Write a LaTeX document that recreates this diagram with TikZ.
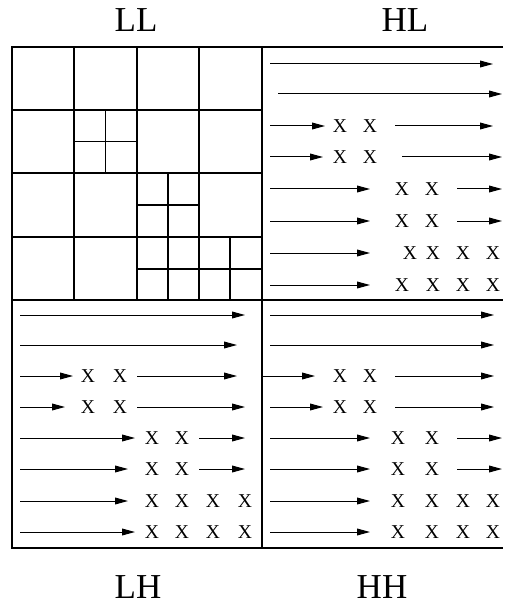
\documentclass[tikz,border=0pt]{standalone}
\usepackage{fontspec}
\setmainfont{Liberation Serif}
\usetikzlibrary{arrows.meta}

\begin{document}
\begin{tikzpicture}[x=0.5pt, y=-0.5pt, line width=0.5pt,
  frame/.style={line width=0.75pt},
  flow/.style={-{Triangle[length=6.5pt,width=3.4pt]}},
  xmark/.style={inner sep=0pt, font=\fontsize{9.8}{10}\selectfont},
  band/.style={inner sep=0pt, font=\fontsize{17.5}{18}\selectfont}]
  \useasboundingbox (0,0) rectangle (507,604);
  % outer frame and quadrants
  \draw[frame] (503,47) -- (12,47) -- (12,548) -- (503,548);
  \draw[frame] (262,47) -- (262,548);
  \draw[frame] (12,300) -- (503,300);
  % LL grid
  \foreach \x in {74,137,199}
    \draw[frame] (\x,47) -- (\x,300);
  \foreach \y in {110,173,237}
    \draw[frame] (12,\y) -- (262,\y);
  \draw[frame] (105.5,110) -- (105.5,173);
  \draw[frame] (74,141.5) -- (137,141.5);
  \draw[frame] (168,173) -- (168,300);
  \draw[frame] (137,205) -- (199,205);
  \draw[frame] (137,269) -- (262,269);
  \draw[frame] (230,237) -- (230,300);
  % HL
  \foreach \a/\b/\y in {270/493/64, 278/502/94, 270/325/126, 395/493/126,
      270/323/157, 402/502/157, 270/370/189, 457/502/189, 270/370/221,
      457/502/221, 270/370/253, 270/370/285}
    \draw[flow] (\a,\y) -- (\b,\y);
  \foreach \x/\y [count=\i] in {340/126, 370/126, 340/157, 370/157, 402/189,
      432/189, 402/221, 432/221, 410/253, 433/253, 463/253, 493/253,
      402/285, 433/285, 463/285, 493/285}
    \node[xmark] (hlx\i) at (\x,\y) {X};
  % LH
  \foreach \a/\b/\y in {20/245/315, 20/237/345, 20/73/376, 137/237/376,
      20/65/407, 137/245/407, 20/135/438, 199/245/438, 20/128/469,
      199/245/469, 20/128/501, 20/135/532}
    \draw[flow] (\a,\y) -- (\b,\y);
  \foreach \x/\y [count=\i] in {88/376, 120/376, 88/407, 120/407, 152/438,
      182/438, 152/469, 182/469, 152/501, 182/501, 213/501, 245/501,
      152/532, 182/532, 213/532, 245/532}
    \node[xmark] (lhx\i) at (\x,\y) {X};
  % HH
  \foreach \a/\b/\y in {270/494/315, 270/494/345, 263/315/376, 395/494/376,
      270/323/407, 395/494/407, 270/370/438, 457/502/438, 270/370/469,
      457/502/469, 270/370/501, 270/370/532}
    \draw[flow] (\a,\y) -- (\b,\y);
  \foreach \x/\y [count=\i] in {340/376, 370/376, 340/407, 370/407, 398/438,
      432/438, 398/469, 432/469, 398/501, 432/501, 463/501, 493/501,
      398/532, 432/532, 463/532, 493/532}
    \node[xmark] (hhx\i) at (\x,\y) {X};
  % band labels
  \node[band] (ll) at (136,20) {LL};
  \node[band] (hl) at (405,20) {HL};
  \node[band] (lh) at (138,587) {LH};
  \node[band] (hh) at (382,587) {HH};
\end{tikzpicture}
\end{document}
